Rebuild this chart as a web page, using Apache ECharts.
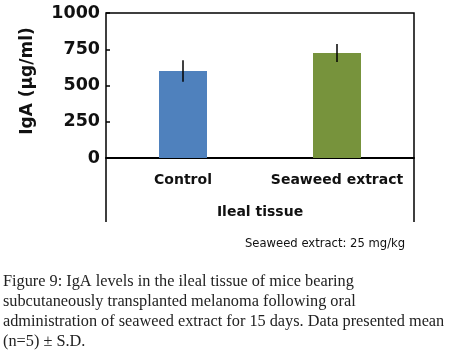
<!DOCTYPE html>
<html><head><meta charset="utf-8">
<script src="https://cdn.jsdelivr.net/npm/echarts@6/dist/echarts.min.js"></script>
<style>html,body{margin:0;padding:0;background:#fff}#c{width:449px;height:361px}</style>
</head><body><div id="c"></div>
<script>
var categories = ['Control', 'Seaweed extract'];
var means = [600, 724];
var sds = [74, 62];
var barColors = ['#4f81bd', '#77933c'];
var yTicks = [0, 250, 500, 750, 1000];
var captionLines = [
  'Figure 9: IgA levels in the ileal tissue of mice bearing',
  'subcutaneously transplanted melanoma following oral',
  'administration of seaweed extract for 15 days. Data presented mean',
  '(n=5) \u00b1 S.D.'
];
var noteText = 'Seaweed extract: 25 mg/kg';

var chart = echarts.init(document.getElementById('c'), null, {renderer: 'canvas'});
var F = 'DejaVu Sans';
var errData = categories.map(function (c, i) { return [i, means[i] - sds[i], means[i] + sds[i]]; });
var graphics = [
  {type: 'polyline', shape: {points: [[106, 222], [106, 13], [414, 13], [414, 222]]},
   style: {stroke: '#000', lineWidth: 1.5, fill: null}, silent: true},
  {type: 'text', left: 245, top: 238, style: {text: noteText, font: '11.6px "DejaVu Sans"', fill: '#111'}}
];
captionLines.forEach(function (t, i) {
  graphics.push({type: 'text', left: 3, top: 274 + i * 19.8,
    style: {text: t, font: '16.3px "Liberation Serif"', fill: '#222'}});
});
chart.setOption({
  animation: false,
  grid: {left: 106, right: 35, top: 13, bottom: 203, containLabel: false},
  xAxis: {
    type: 'category', data: categories,
    axisLine: {show: true, lineStyle: {color: '#000', width: 2}},
    axisTick: {show: false},
    axisLabel: {fontFamily: F, fontWeight: 'bold', fontSize: 14, color: '#111', margin: 15, interval: 0},
    name: 'Ileal tissue', nameLocation: 'middle', nameGap: 47,
    nameTextStyle: {fontFamily: F, fontWeight: 'bold', fontSize: 14, color: '#111'}
  },
  yAxis: {
    type: 'value', min: yTicks[0], max: yTicks[yTicks.length - 1], interval: 250,
    axisLine: {show: false},
    axisTick: {show: true, inside: true, length: 4, lineStyle: {color: '#000', width: 1.5}},
    splitLine: {show: false},
    axisLabel: {fontFamily: F, fontWeight: 'bold', fontSize: 17.5, color: '#111', margin: 6,
                formatter: function (v) { return String(v); }},
    name: 'IgA (\u00b5g/ml)', nameLocation: 'middle', nameGap: 70, nameRotate: 90,
    nameTextStyle: {fontFamily: F, fontWeight: 'bold', fontSize: 17, color: '#111', padding: [0, 0, 0, 9]}
  },
  series: [
    {type: 'bar', barWidth: 48,
     data: means.map(function (v, i) { return {value: v, itemStyle: {color: barColors[i]}}; })},
    {type: 'custom', data: errData, z: 5,
     renderItem: function (params, api) {
       var p1 = api.coord([api.value(0), api.value(1)]);
       var p2 = api.coord([api.value(0), api.value(2)]);
       return {type: 'line', shape: {x1: p1[0], y1: p1[1], x2: p2[0], y2: p2[1]},
               style: {stroke: '#000', lineWidth: 1.5}};
     }}
  ],
  graphic: graphics
});
</script></body></html>
